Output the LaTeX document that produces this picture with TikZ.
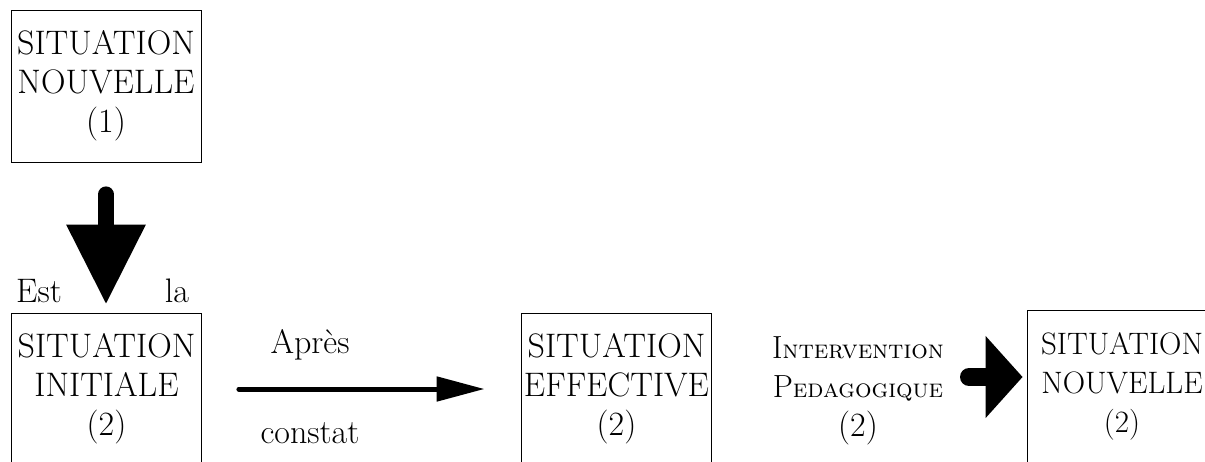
\documentclass[tikz,border=0pt]{standalone}
\usepackage{tikz}
\usetikzlibrary{arrows.meta, positioning}

\newcommand{\petitescaps}[2]{{\fontsize{16}{19.5}\selectfont #1}{\fontsize{13}{19.5}\selectfont\textsc{#2}}}

\tikzset{
  situation/.style={draw, thin, align=center, minimum width=95pt, minimum height=76pt, inner sep=0pt, font=\fontsize{17}{19.5}\selectfont},
  legende/.style={align=center, inner sep=0pt, font=\fontsize{17}{19.5}\selectfont},
  grossefleche/.style={line width=8pt, line cap=round, -{Triangle[length=40pt, width=37.5pt]}},
  fleche/.style={line width=2.5pt, line cap=round, -{Triangle[length=24pt, width=12pt]}},
  blocfleche/.style={line width=9pt, line cap=round, -{Triangle[length=18.5pt, width=40pt]}},
}

\begin{document}
\begin{tikzpicture}[x=0.5pt, y=-0.5pt]
\useasboundingbox (0,0) rectangle (1205,461);
\clip (0,0) rectangle (1205,461);

% les quatre situations
\node [situation] (nouv1) at (106,86) {SITUATION\\NOUVELLE\\(1)};
\node [situation] (init) at (106.5,389) {SITUATION\\INITIALE\\(2)};
\node [situation] (effect) at (616.5,389) {SITUATION\\EFFECTIVE\\(2)};
\node [situation, font=\fontsize{15.5}{19.5}\selectfont] (nouv2) at (1122,386) {SITUATION\\NOUVELLE\\(2)};

% legendes
\node [legende] (est) at (39,291) {Est};
\node [legende] (la) at (177,291) {la};
\node [legende] (apres) at (310,345) {Apr\`es};
\node [legende] (constat) at (310,433) {constat};
\node [legende] (interv) at (858,391) {\petitescaps{I}{ntervention}\\\petitescaps{P}{edagogique}\\(2)};

% fleches
\draw [grossefleche, shorten <=16pt, shorten >=4pt] (nouv1.south) -- (nouv1.south |- init.north);
\draw [fleche, shorten <=18.5pt, shorten >=18.25pt] (init.east) -- (effect.west);
\coordinate (queue) at (969,377);
\draw [blocfleche, shorten >=2pt] (queue) -- (queue -| nouv2.west);
\end{tikzpicture}
\end{document}
